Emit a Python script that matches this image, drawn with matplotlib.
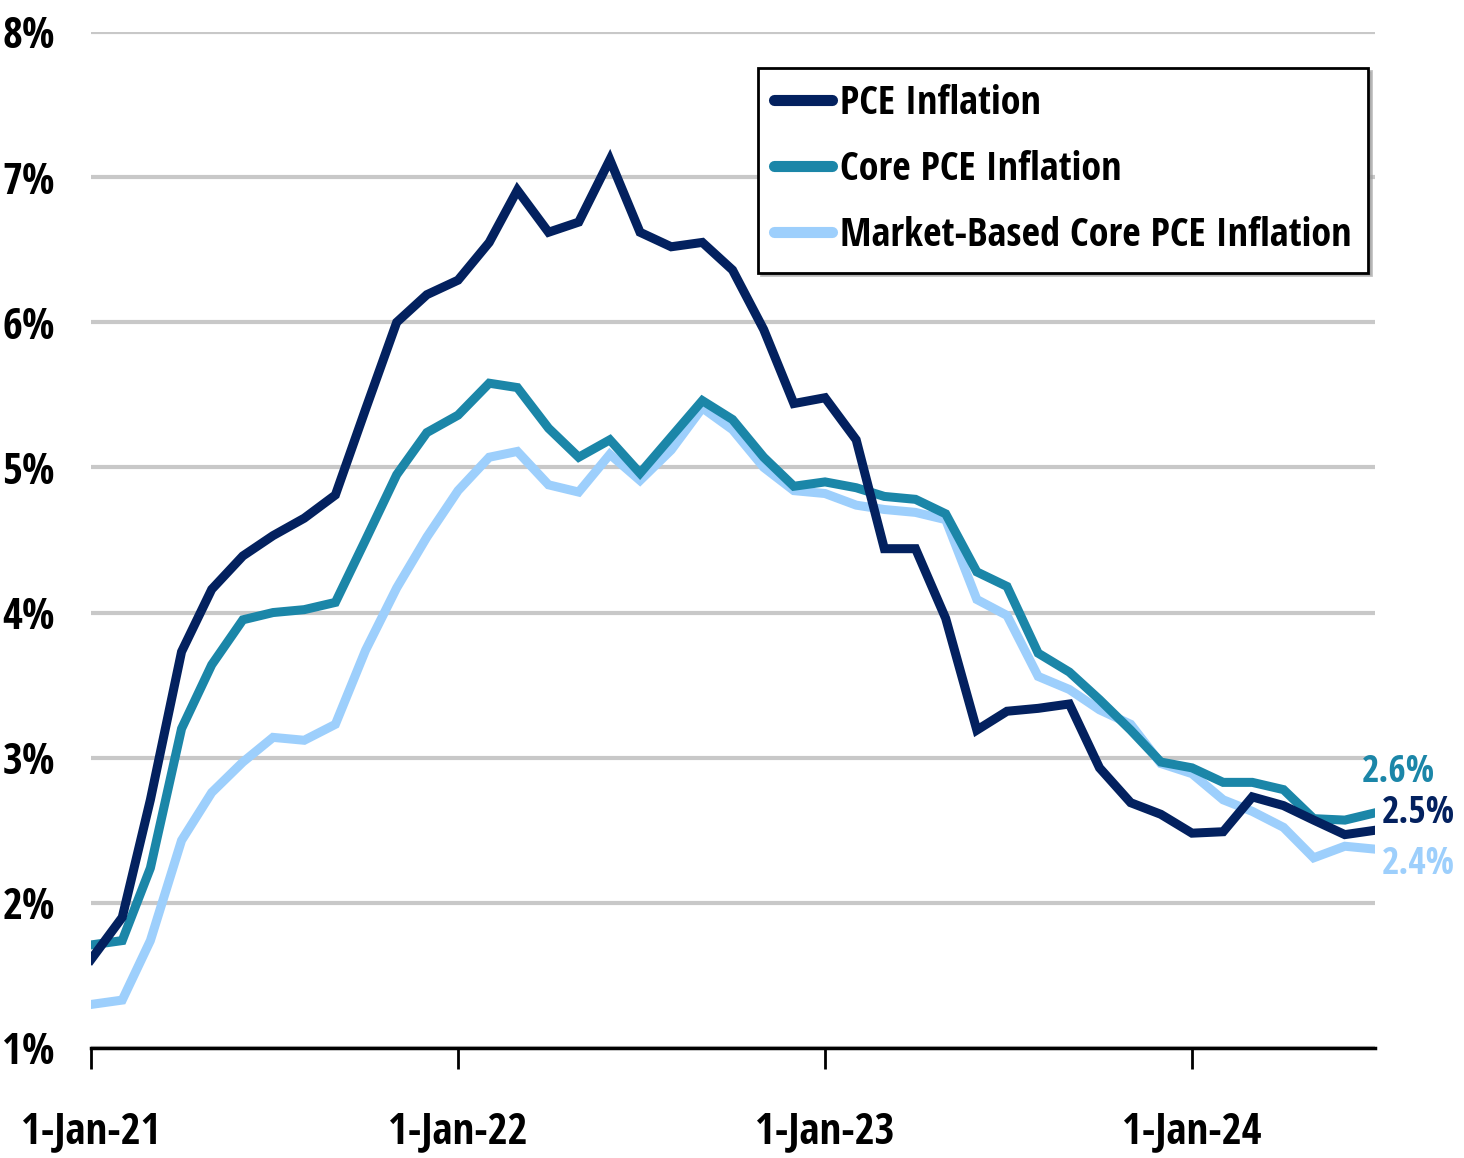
import numpy as np
import pandas as pd
import matplotlib
matplotlib.use("Agg")
import matplotlib.pyplot as plt
import matplotlib.dates as mdates

# monthly, Jan 2021 .. Jul 2024
dates = pd.date_range("2021-01-01", "2024-07-01", freq="MS")

pce = [1.61, 1.90, 2.71, 3.73, 4.16, 4.39, 4.53, 4.65, 4.81, 5.40, 6.00, 6.19,
       6.29, 6.55, 6.91, 6.62, 6.69, 7.12, 6.62, 6.52, 6.55, 6.36, 5.95, 5.44,
       5.48, 5.19, 4.44, 4.44, 3.96, 3.19, 3.32, 3.34, 3.37, 2.93, 2.69, 2.61,
       2.48, 2.49, 2.73, 2.67, 2.57, 2.47, 2.50]
core = [1.71, 1.74, 2.24, 3.20, 3.64, 3.95, 4.00, 4.02, 4.07, 4.50, 4.95, 5.24,
        5.36, 5.58, 5.55, 5.27, 5.07, 5.19, 4.96, 5.21, 5.46, 5.33, 5.07, 4.87,
        4.90, 4.86, 4.80, 4.78, 4.68, 4.28, 4.18, 3.72, 3.59, 3.40, 3.19, 2.97,
        2.93, 2.83, 2.83, 2.78, 2.58, 2.57, 2.62]
market = [1.30, 1.33, 1.74, 2.43, 2.76, 2.97, 3.14, 3.12, 3.23, 3.74, 4.17, 4.52,
          4.84, 5.07, 5.11, 4.88, 4.83, 5.09, 4.91, 5.12, 5.41, 5.26, 5.00, 4.84,
          4.82, 4.74, 4.71, 4.69, 4.64, 4.09, 3.98, 3.56, 3.47, 3.33, 3.23, 2.96,
          2.89, 2.71, 2.63, 2.52, 2.31, 2.39, 2.37]

names = ["PCE Inflation", "Core PCE Inflation", "Market-Based Core PCE Inflation"]
colors = ["#03215f", "#1b86a8", "#9dcffc"]
end_labels = ["2.5%", "2.6%", "2.4%"]

plt.rcParams["font.family"] = ["Open Sans Condensed", "DejaVu Sans"]
plt.rcParams["font.weight"] = "bold"

fig = plt.figure(figsize=(14.64, 11.58), dpi=100)
ax = fig.add_axes([0.0622, 0.095, 0.877, 0.8774])

series = [pce, core, market]
# light first so the dark line sits on top
for vals, name, col in reversed(list(zip(series, names, colors))):
    ax.plot(dates, vals, color=col, lw=6.5, label=name, solid_joinstyle="miter", zorder=3)

ax.set_ylim(1, 8)
ax.set_xlim(dates[0], dates[-1])
ax.set_yticks(np.arange(1, 9))
ax.set_yticklabels([f"{v}%" for v in range(1, 9)])
ax.yaxis.grid(True, color="#c8c8c8", lw=3)
ax.set_axisbelow(True)

ax.xaxis.set_major_locator(mdates.YearLocator(month=1, day=1))
ax.xaxis.set_major_formatter(mdates.DateFormatter("1-Jan-%y"))
for s in ["top", "right", "left"]:
    ax.spines[s].set_visible(False)
ax.spines["bottom"].set_linewidth(2.5)
ax.spines["bottom"].set_zorder(4)
ax.tick_params(axis="y", length=0, pad=26, labelsize=31)
ax.tick_params(axis="x", direction="out", length=15, width=2, pad=30, labelsize=31)

# end-of-line labels (pixel offsets from the last point)
label_pos = {"2.5%": (7, 2.62), "2.6%": (-13, 2.9), "2.4%": (7, 2.27)}
for col, lab in zip(colors, end_labels):
    dx, yv = label_pos[lab]
    ax.annotate(lab, xy=(dates[-1], yv), xycoords="data",
                xytext=(dx, 0), textcoords="offset pixels",
                color=col, fontsize=27, fontweight="bold", va="center", ha="left",
                annotation_clip=False)

handles, labels = ax.get_legend_handles_labels()
leg = ax.legend(handles[::-1], labels[::-1], loc="upper right",
                bbox_to_anchor=(0.9946, 0.9646), fontsize=29, frameon=True,
                fancybox=False, shadow={"color": "#9a9a9a", "alpha": 0.6},
                edgecolor="black", handlelength=1.45, handletextpad=0.2,
                borderpad=0.4, labelspacing=0.65, borderaxespad=0)
leg.get_frame().set_linewidth(2)
for h in leg.get_lines():
    h.set_linewidth(8)
    h.set_solid_capstyle("round")

fig.savefig("out.png", dpi=100)
